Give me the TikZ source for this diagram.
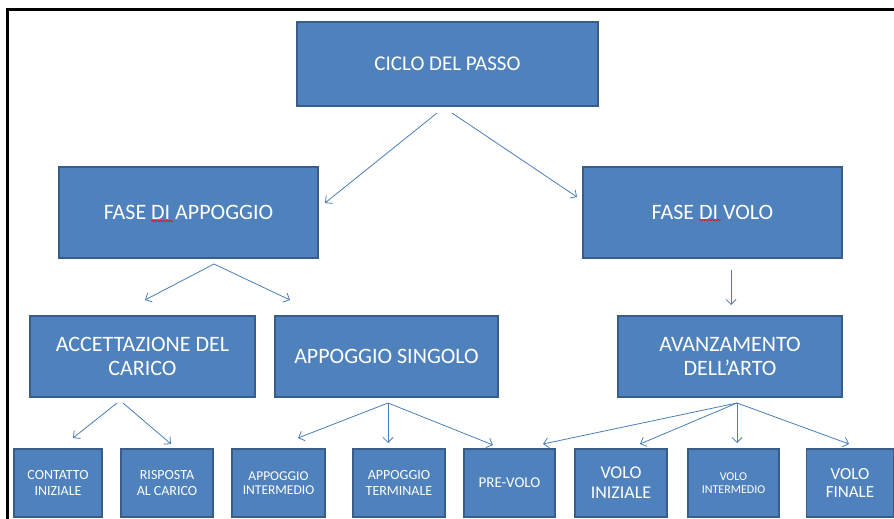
\documentclass[tikz,border=0pt]{standalone}
\usepackage{fontspec}
\setmainfont{Carlito}
\usetikzlibrary{arrows.meta,decorations.pathmorphing}
\definecolor{boxfill}{HTML}{4F81BD}
\definecolor{boxline}{HTML}{385D8A}
\definecolor{arrcol}{HTML}{4A7EBB}
\newcommand{\fs}[2]{\fontsize{#1}{#2}\selectfont}
\tikzset{
  box/.style={draw=boxline, line width=1.2pt, fill=boxfill, text=white, align=center, inner sep=0pt},
  conn/.style={draw=arrcol, line width=0.8pt, -{Straight Barb[length=5pt,width=10pt]}},
  squig/.style={draw=red, line width=0.6pt, decorate, decoration={snake, amplitude=0.7pt, segment length=3pt}}
}
\begin{document}
\begin{tikzpicture}[x=1pt,y=-1pt]
\useasboundingbox (0,0) rectangle (894,519);
\fill[white] (0,0) rectangle (894,519);
% frame
\draw[line width=3pt] (7.5,519) -- (7.5,9.5) -- (894,9.5);
% level 0
\node[box, minimum width=301, minimum height=84, font=\fs{21}{23}] (ciclo) at (447.5,64) {CICLO DEL PASSO};
% level 1
\node[box, minimum width=259, minimum height=91, font=\fs{22}{24}] (fap) at (188.5,212.5) {FASE DI APPOGGIO};
\node[box, minimum width=259, minimum height=91, font=\fs{22}{24}] (fvolo) at (712.5,212.5) {FASE DI VOLO};
% level 2
\node[box, minimum width=225, minimum height=81, font=\fs{22}{23.5}] (acc) at (142.5,356.5) {ACCETTAZIONE DEL\\CARICO};
\node[box, minimum width=223, minimum height=81, font=\fs{22}{23.5}] (asing) at (386.5,356.5) {APPOGGIO SINGOLO};
\node[box, minimum width=224, minimum height=81, font=\fs{22}{23.5}] (avanz) at (730,356.5) {AVANZAMENTO\\DELL’ARTO};
% level 3
\node[box, minimum width=88, minimum height=68, font=\fs{14}{15.5}] (cont) at (58,483) {CONTATTO\\INIZIALE};
\node[box, minimum width=92, minimum height=68, font=\fs{14}{15.5}] (risp) at (167,483) {RISPOSTA\\AL CARICO};
\node[box, minimum width=93, minimum height=68, font=\fs{13.5}{14.5}] (aint) at (278.5,483) {APPOGGIO\\INTERMEDIO};
\node[box, minimum width=92, minimum height=68, font=\fs{14}{15.5}] (aterm) at (399,483) {APPOGGIO\\TERMINALE};
\node[box, minimum width=91, minimum height=68, font=\fs{15}{17}] (prev) at (509.5,483) {PRE-VOLO};
\node[box, minimum width=92, minimum height=68, font=\fs{18}{20}] (vini) at (621,483) {VOLO\\INIZIALE};
\node[box, minimum width=91, minimum height=68, font=\fs{12}{13}] (vint) at (733.5,483) {VOLO\\INTERMEDIO};
\node[box, minimum width=87, minimum height=68, font=\fs{17}{18.5}] (vfin) at (850,483) {VOLO\\FINALE};
% spell-check marks
\draw[squig] (151,221) -- (173,221);
\draw[squig] (699,220) -- (721,220);
% arrow coordinates
\coordinate (c1) at (437,113); \coordinate (c1e) at (325,203);
\coordinate (c2) at (452,113); \coordinate (c2e) at (577,197);
\coordinate (f1) at (214,264); \coordinate (f1a) at (145,300); \coordinate (f1b) at (290,300);
\coordinate (v1) at (731,270); \coordinate (v1e) at (731,305);
\coordinate (a1) at (117,403); \coordinate (a1e) at (73,438);
\coordinate (a2) at (123,403); \coordinate (a2e) at (171,444);
\coordinate (s0) at (388,403); \coordinate (s1) at (298,438); \coordinate (s2) at (388,443); \coordinate (s3) at (493,445);
\coordinate (w0) at (737,403); \coordinate (w1) at (543,444); \coordinate (w2) at (640,444); \coordinate (w3) at (737,443); \coordinate (w4) at (849,444);
\draw[conn] (c1) -- (c1e);
\draw[conn] (c2) -- (c2e);
\draw[conn] (f1) -- (f1a);
\draw[conn] (f1) -- (f1b);
\draw[conn] (v1) -- (v1e);
\draw[conn] (a1) -- (a1e);
\draw[conn] (a2) -- (a2e);
\draw[conn] (s0) -- (s1);
\draw[conn] (s0) -- (s2);
\draw[conn] (s0) -- (s3);
\draw[conn] (w0) -- (w1);
\draw[conn] (w0) -- (w2);
\draw[conn] (w0) -- (w3);
\draw[conn] (w0) -- (w4);
\end{tikzpicture}
\end{document}
